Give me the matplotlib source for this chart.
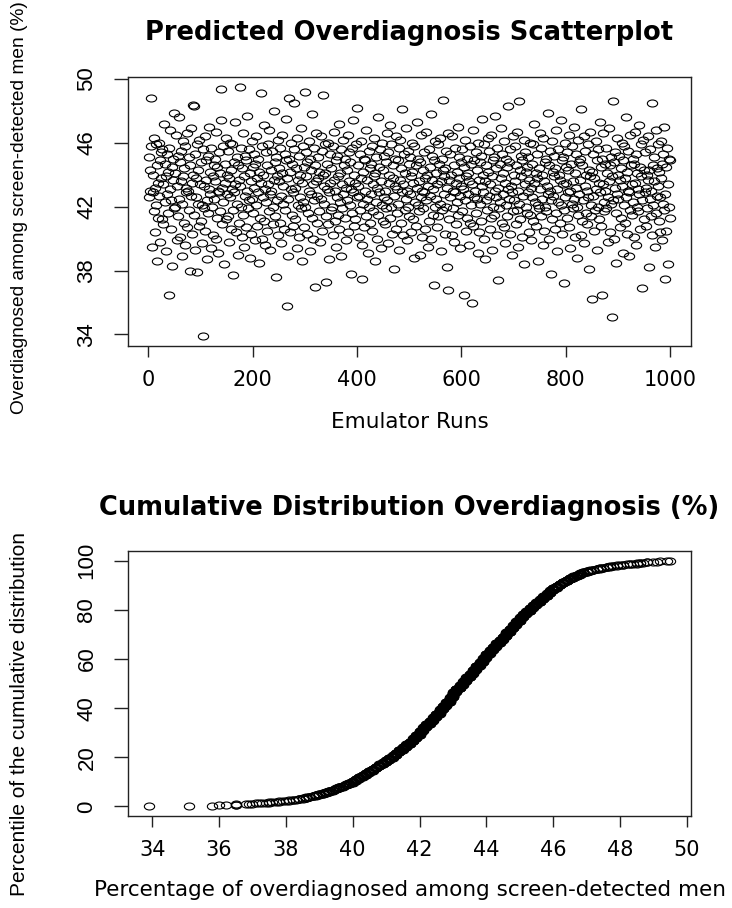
import numpy as np
import matplotlib
matplotlib.use("Agg")
import matplotlib.pyplot as plt
from matplotlib.path import Path

# predicted overdiagnosis (%) for each emulator run
overdiag_text = """
45.1 42.6 44.3 43.0 48.8 45.8 39.5 42.9 44.0 41.7 46.3 43.2 40.4 45.9 42.1 38.6 44.6 43.5 41.3 46.0 42.7 39.8 44.9 43.8 45.4
41.2 45.6 43.4 40.9 47.2 42.3 44.7 39.2 43.9 45.3 42.8 41.6 44.2 45.7 36.5 43.1 46.8 40.6 42.4 44.5 38.3 45.0 43.7 41.9 47.9
44.1 42.0 46.5 39.9 43.3 45.2 41.4 47.6 42.5 44.8 40.1 43.6 45.5 38.9 42.2 46.1 43.9 41.0 44.4 39.6 45.8 42.9 43.2 40.7 46.6
43.0 45.1 41.8 44.6 38.0 42.7 46.9 43.5 40.3 48.4 44.0 41.5 48.3 45.3 39.3 42.6 43.8 45.9 37.9 44.3 42.2 40.8 46.2 43.4 41.1
44.8 42.1 39.7 45.6 33.9 43.3 41.9 46.4 40.5 43.7 44.9 42.4 38.7 45.2 41.6 43.1 47.0 42.8 44.2 39.4 45.7 42.0 43.9 40.2 44.6
42.5 45.0 43.6 40.0 46.7 41.3 44.5 43.0 39.1 45.4 42.9 44.1 41.7 47.4 49.4 43.2 40.9 45.8 42.3 38.4 44.7 43.5 41.2 46.3 42.8
44.0 41.4 45.5 43.8 39.8 42.6 46.0 40.6 44.3 43.1 45.9 41.8 37.7 42.9 44.8 47.3 43.4 40.4 45.1 42.2 39.0 44.6 43.7 41.0 49.5
43.3 45.7 42.0 44.4 40.1 46.6 41.5 43.9 39.5 45.2 42.7 44.9 40.7 43.0 47.7 41.9 45.6 42.4 38.8 44.1 43.6 40.3 46.1 42.5 44.5
41.6 45.3 43.2 39.9 44.7 42.1 46.4 40.8 43.8 45.0 42.9 38.5 44.2 41.3 49.1 43.5 40.0 45.8 42.6 44.0 41.1 47.1 43.1 39.6 45.4
42.3 44.6 40.5 45.9 43.4 41.7 46.8 42.8 39.3 44.3 43.0 45.5 40.9 42.0 48.0 43.7 41.4 44.8 37.6 45.1 42.4 43.9 40.2 46.2 44.4
43.6 41.0 45.7 42.7 39.7 44.1 46.5 42.2 43.3 40.6 45.3 41.8 44.9 47.5 35.8 43.8 42.5 38.9 45.0 48.8 44.2 40.4 43.1 46.0 41.5
44.7 42.9 40.8 45.6 48.5 43.2 41.2 44.4 39.4 46.3 42.1 43.7 45.2 40.1 42.6 44.0 41.9 46.9 38.6 43.5 45.8 42.3 40.7 44.5 49.2
42.0 45.4 43.9 40.3 44.8 41.6 46.1 43.0 39.2 45.0 42.8 44.3 41.3 47.8 43.4 40.0 45.7 42.4 44.6 37.0 43.6 46.6 41.0 42.7 45.1
43.8 41.7 44.2 39.8 46.4 42.5 45.5 40.5 44.0 49.0 42.2 43.3 45.9 44.1 37.3 41.4 44.7 43.1 40.9 46.0 42.9 38.7 45.3 43.5 41.8
44.4 42.0 45.8 40.2 43.7 46.7 41.1 43.0 39.5 44.9 42.6 45.2 41.5 43.9 47.2 40.6 44.1 42.3 45.6 38.9 43.4 41.9 46.2 42.8 44.6
41.3 45.0 43.2 39.9 44.3 42.4 46.5 40.4 43.6 45.4 42.1 44.8 37.8 43.1 41.6 45.7 42.9 47.4 40.8 44.0 43.5 41.2 45.9 42.6 48.2
43.3 44.6 40.1 42.7 45.3 41.8 43.8 46.1 39.6 37.5 44.2 42.2 45.0 40.7 43.0 44.9 41.4 46.8 42.5 43.7 39.1 45.5 42.0 44.4 41.0
44.7 42.8 45.8 40.5 43.4 41.7 46.3 43.9 38.6 44.1 42.3 45.1 40.0 43.2 47.6 41.5 44.5 42.9 45.6 39.4 43.6 42.1 46.0 41.1 44.3
42.6 45.2 43.0 40.9 44.8 41.9 46.6 42.4 39.7 45.4 43.5 44.0 41.3 47.1 42.0 45.9 40.3 43.8 44.6 38.1 42.7 45.0 43.3 40.6 46.4
43.1 41.6 44.9 42.2 45.7 39.3 43.7 46.2 41.0 44.4 42.9 48.1 40.2 43.4 45.3 41.8 44.1 42.5 46.9 39.9 43.0 45.5 42.0 44.7 41.4
45.1 42.8 43.9 40.4 44.2 46.0 41.2 43.5 38.8 45.8 42.3 44.6 40.8 43.2 47.3 42.1 45.0 41.7 43.6 39.0 44.8 42.6 46.5 43.0 40.1
44.3 41.9 45.4 42.9 43.8 40.6 46.7 42.4 44.0 39.5 43.3 45.6 41.1 44.5 42.7 47.8 40.0 43.7 45.2 41.5 43.1 37.1 44.9 42.0 46.1
42.5 44.1 43.4 40.7 45.9 41.4 44.7 42.2 46.3 39.2 43.6 45.0 41.8 44.3 48.7 42.8 43.9 40.3 44.4 42.0 45.5 38.2 43.2 46.6 36.8
43.7 41.2 45.3 42.6 44.0 40.2 46.4 43.0 41.9 44.6 39.8 42.9 45.7 43.5 40.9 44.2 42.3 47.0 41.5 43.8 45.1 39.4 42.7 44.8 43.3
41.7 45.6 43.1 44.5 36.5 42.4 46.2 40.5 43.9 45.0 41.3 44.1 42.8 39.6 43.6 45.8 41.0 44.7 42.1 36.0 43.4 46.8 40.8 42.6 44.9
43.0 45.4 41.6 44.3 42.5 39.1 46.0 43.7 40.4 44.8 42.2 45.2 41.1 43.3 47.5 42.9 44.0 40.0 45.9 43.6 38.7 42.4 44.6 41.8 46.3
44.2 42.7 45.5 40.6 43.4 41.3 46.5 43.9 39.3 44.9 42.0 45.1 41.5 43.0 47.7 42.6 44.4 40.2 45.7 43.2 37.4 41.9 44.7 42.3 46.9
43.8 41.0 45.3 42.8 44.1 40.7 46.1 43.5 39.7 45.0 42.1 44.5 41.4 43.1 48.3 42.5 44.8 40.3 45.6 43.3 39.0 42.9 46.4 41.7 44.0
42.4 45.8 43.6 40.9 44.6 41.8 46.7 43.0 39.5 48.6 42.2 44.3 41.2 45.2 43.9 40.1 44.9 42.7 46.2 38.4 43.4 45.4 42.0 44.2 41.6
44.5 42.9 45.1 40.4 43.7 41.5 46.0 43.2 39.9 44.7 42.6 45.9 41.1 43.5 47.2 42.3 44.1 40.8 45.3 43.8 38.6 42.1 44.4 41.9 46.6
43.1 41.4 45.7 42.5 44.0 39.6 46.3 43.6 40.5 44.8 42.0 45.0 41.7 43.3 47.9 42.8 44.6 40.0 45.5 43.0 37.8 42.4 46.1 41.2 44.2
42.7 45.2 43.9 40.6 44.4 41.6 46.8 43.1 39.2 45.6 42.3 44.0 41.0 43.7 47.4 42.1 44.9 40.3 45.1 43.4 37.2 41.8 46.0 42.6 44.5
43.5 41.3 45.4 42.9 44.3 40.7 46.5 43.0 39.4 44.7 42.2 45.8 41.9 43.6 47.0 42.5 44.1 40.1 45.3 43.2 38.8 42.0 46.2 41.5 44.8
42.8 45.0 43.7 40.2 48.1 41.1 44.6 42.4 46.4 39.7 43.3 45.5 41.6 44.0 43.0 40.9 45.9 42.6 44.3 38.1 43.9 46.7 41.4 42.1 36.2
44.2 42.7 45.3 40.5 43.8 41.8 46.1 43.1 39.3 44.9 42.0 45.6 41.2 43.5 47.3 42.9 44.5 40.8 45.0 36.5 43.4 46.6 41.7 42.3 44.7
43.0 45.7 41.9 44.1 42.6 39.8 46.9 43.6 40.4 44.6 42.2 45.1 35.1 43.9 48.6 42.4 44.8 40.0 45.4 43.2 38.5 41.6 46.3 42.8 44.0
42.5 45.2 43.7 40.7 44.4 41.3 46.0 43.3 39.1 44.9 42.1 45.8 41.0 43.8 47.6 42.6 44.2 40.3 45.5 43.0 38.9 42.9 46.5 41.8 44.6
43.4 41.5 45.0 42.3 44.7 40.1 46.7 43.5 39.6 45.3 42.0 44.1 41.7 43.1 47.1 42.8 44.5 40.6 45.9 43.9 36.9 42.4 46.2 41.2 44.3
42.9 45.4 43.2 40.8 44.0 41.9 46.4 43.7 44.3 38.2 42.5 45.6 41.4 43.0 48.5 40.2 44.6 42.1 45.1 43.6 39.5 41.6 46.8 42.7 44.4
43.3 45.9 41.1 44.2 42.6 40.4 46.1 43.8 39.9 44.7 42.2 45.3 41.8 47.0 37.5 42.8 44.5 40.5 45.7 43.4 38.4 42.0 45.0 41.3 44.9
"""
overdiag = np.array(overdiag_text.split(), dtype=float)
runs = np.arange(1, len(overdiag) + 1)

scatter_title = "Predicted Overdiagnosis Scatterplot"
scatter_xlabel = "Emulator Runs"
scatter_ylabel = "Overdiagnosed among screen-detected men (%)"
scatter_xticks = [0, 200, 400, 600, 800, 1000]
scatter_yticks = [34, 38, 42, 46, 50]

cdf_title = "Cumulative Distribution Overdiagnosis (%)"
cdf_xlabel = "Percentage of overdiagnosed among screen-detected men"
cdf_ylabel = "Percentile of the cumulative distribution"
cdf_xticks = [34, 36, 38, 40, 42, 44, 46, 48, 50]
cdf_yticks = [0, 20, 40, 60, 80, 100]

W, H = 732, 908
fig = plt.figure(figsize=(W / 100, H / 100), dpi=100)

# slightly flattened open circle, like the stretched R picture
uc = Path.unit_circle()
ring = Path(uc.vertices * [1.0, 0.68], uc.codes)


def rect(l, t, r, b):
    return [l / W, 1 - b / H, (r - l) / W, (b - t) / H]


def r_like(ax, xlim, ylim, xticks, yticks):
    ax.set_xlim(xlim)
    ax.set_ylim(ylim)
    ax.set_xticks(xticks)
    ax.set_yticks(yticks)
    for s in ax.spines.values():
        s.set_linewidth(1.0)
        s.set_color("#222222")
    ax.tick_params(axis="x", direction="out", length=8, width=1.0,
                   pad=9, labelsize=15, color="#222222")
    ax.tick_params(axis="y", direction="out", length=10, width=1.0,
                   pad=12, labelsize=15, color="#222222", labelrotation=90)
    for lab in ax.get_yticklabels():
        lab.set_va("center")
        lab.set_family("Liberation Sans")
        lab.set_fontsize(16)


# ---- top: scatter ----
ax1 = fig.add_axes(rect(128, 77, 691, 346))
ax1.plot(runs, overdiag, linestyle="none", marker=ring, markersize=7.4,
         markerfacecolor="none", markeredgecolor="black", markeredgewidth=0.8)
r_like(ax1, (1 - 0.04 * 999, 1000 + 0.04 * 999),
       (overdiag.min() - 0.04 * np.ptp(overdiag), overdiag.max() + 0.04 * np.ptp(overdiag)),
       scatter_xticks, scatter_yticks)
fig.text(409.5 / W, 1 - 33 / H, scatter_title, ha="center", va="center",
         fontsize=18.5, fontweight="bold")
fig.text(409.5 / W, 1 - 422 / H, scatter_xlabel, ha="center", va="center", fontsize=15.5)
fig.text(20 / W, 1 - 208 / H, scatter_ylabel, ha="center", va="center",
         rotation=90, fontsize=13.8, family="Liberation Sans")

# ---- bottom: cumulative distribution ----
srt = np.sort(overdiag)
pct = np.arange(1, len(srt) + 1) / len(srt) * 100
ax2 = fig.add_axes(rect(128, 551, 691, 816))
ax2.plot(srt, pct, linestyle="none", marker=ring, markersize=7.4,
         markerfacecolor="none", markeredgecolor="black", markeredgewidth=0.8)
r_like(ax2, (srt.min() - 0.04 * np.ptp(srt), srt.max() + 0.04 * np.ptp(srt)),
       (pct.min() - 0.04 * np.ptp(pct), pct.max() + 0.04 * np.ptp(pct)),
       cdf_xticks, cdf_yticks)
fig.text(409.5 / W, 1 - 508 / H, cdf_title, ha="center", va="center",
         fontsize=18.5, fontweight="bold")
fig.text(409.5 / W, 1 - 890 / H, cdf_xlabel, ha="center", va="center", fontsize=15.5)
fig.text(20 / W, 1 - 714 / H, cdf_ylabel, ha="center", va="center",
         rotation=90, fontsize=15, family="Liberation Sans")

fig.savefig("out.png", dpi=100)
